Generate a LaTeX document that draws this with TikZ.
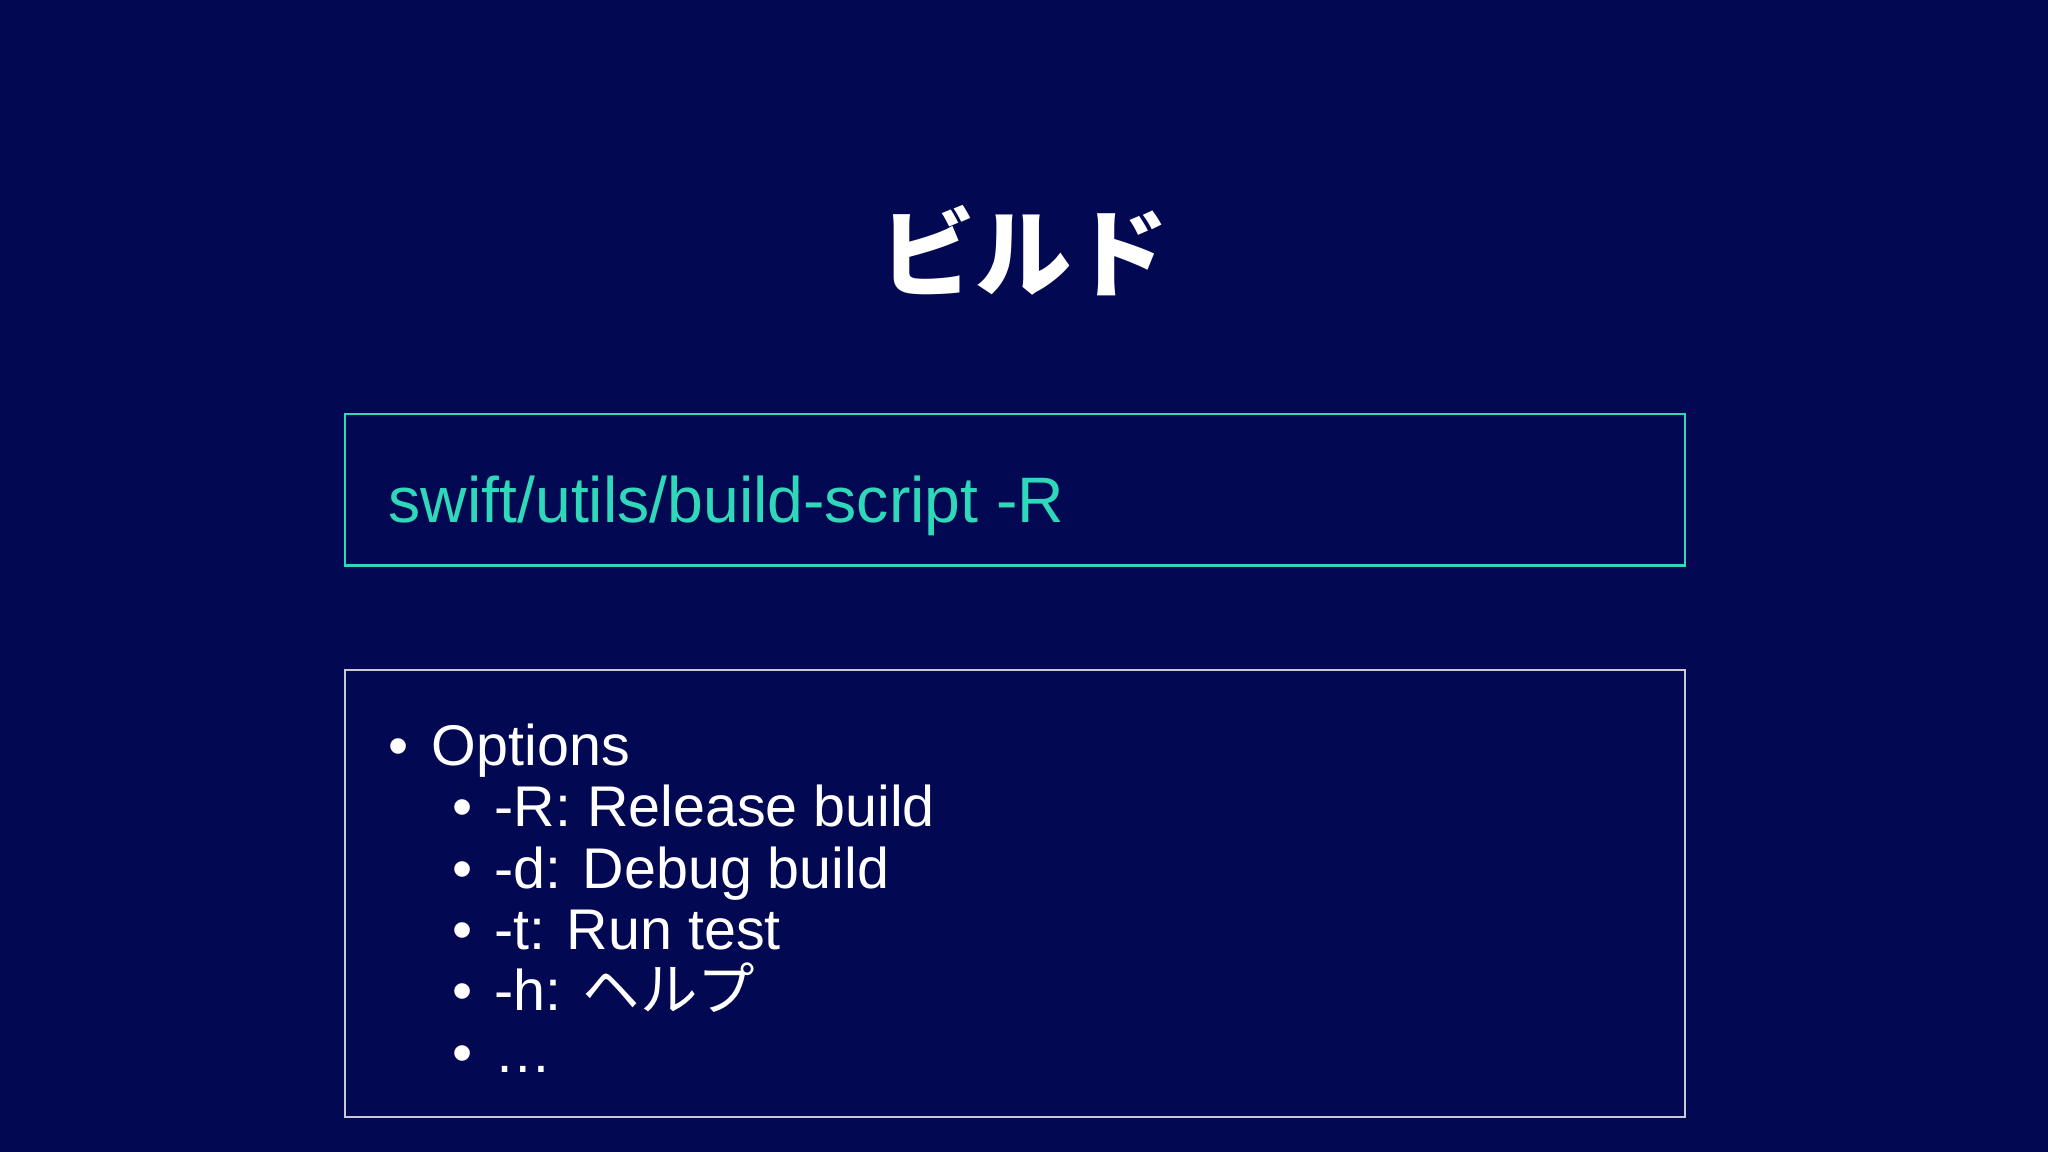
\documentclass[tikz,border=0pt]{standalone}
\usepackage{fontspec}
\setmainfont{Liberation Sans}
\newfontfamily\jp{Noto Sans CJK JP}
\definecolor{bg}{HTML}{020852}
\definecolor{teal}{HTML}{2FD8B8}
\definecolor{frame}{HTML}{C8C8D8}
\begin{document}
\begin{tikzpicture}[x=0.01cm,y=-0.01cm,
  txt/.style={anchor=base west,inner sep=0,text=white,font=\fontsize{12.5}{14}\selectfont},
  bul/.style={anchor=base,inner sep=0,text=white,font=\fontsize{12.5}{14}\selectfont}]
\fill[bg] (0,0) rectangle (1568,882);
\useasboundingbox (0,0) rectangle (1568,882);
\node[anchor=base,inner sep=0,text=white,font=\jp\bfseries\fontsize{21}{24}\selectfont] (title) at (784,222) {ビルド};
\draw[teal,line width=0.5pt] (264,317) rectangle (1290,433);
\node[anchor=base west,inner sep=0,text=teal,font=\fontsize{14}{16}\selectfont] (code) at (297,400) {swift/utils/build-script -R};
\draw[frame,line width=0.5pt] (264,513) rectangle (1290,855);
\node[bul] (b0) at (305,586) {•};
\node[txt] (t0) at (330,586) {Options};
\foreach \i/\t in {1/{-R: Release build},2/{-d: Debug build},3/{-t: Run test},4/{-h: {\jp ヘルプ}},5/{…}}{
  \node[bul] (b\i) at (354,586+47*\i) {•};
  \node[txt] (t\i) at (378,586+47*\i) {\t};
}
\end{tikzpicture}
\end{document}
